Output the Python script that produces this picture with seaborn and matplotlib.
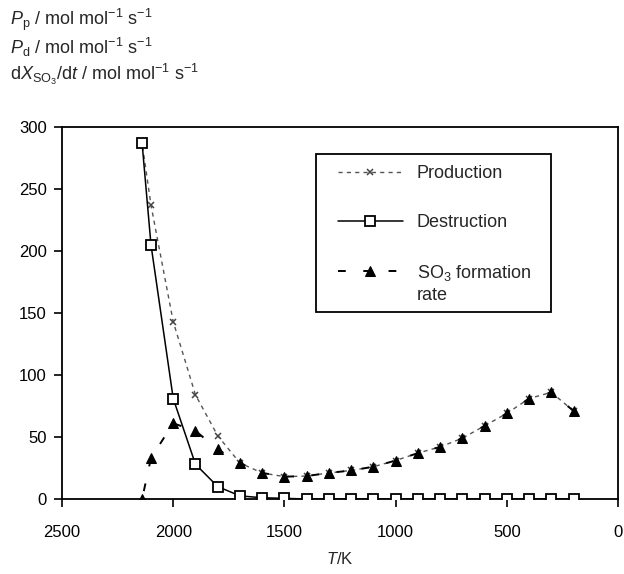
import matplotlib
matplotlib.use("Agg")
import matplotlib.pyplot as plt
from matplotlib.patches import Rectangle
import seaborn as sns
import pandas as pd

# Temperature grid (K) and rates (mol mol^-1 s^-1)
temperature = [2140, 2100, 2000, 1900, 1800, 1700, 1600, 1500, 1400, 1300,
               1200, 1100, 1000, 900, 800, 700, 600, 500, 400, 300, 200]
production = [287, 237, 143, 84, 51, 29, 21, 18, 18.5, 21,
              23, 26, 31, 37, 42, 49, 59, 69, 81, 86, 71]
destruction = [287, 205, 81, 28, 10, 2.5, 1, 0.5, 0, 0,
               0, 0, 0, 0, 0, 0, 0, 0, 0, 0, 0]
so3_rate = [0, 33, 61, 55, 40, 29, 21, 18, 18.5, 21,
            23, 26, 31, 37, 42, 49, 59, 69, 81, 86, 71]

x_ticks = [2500, 2000, 1500, 1000, 500, 0]
y_ticks = [0, 50, 100, 150, 200, 250, 300]

sns.set_style("white")
plt.rcParams["font.family"] = ["Liberation Sans", "DejaVu Sans"]
plt.rcParams["mathtext.fontset"] = "custom"
plt.rcParams["mathtext.rm"] = "Liberation Sans"
plt.rcParams["mathtext.it"] = "Liberation Sans:italic"
plt.rcParams["mathtext.bf"] = "Liberation Sans:bold"

df = pd.DataFrame({"T": temperature, "Pp": production,
                   "Pd": destruction, "dX": so3_rate})

fig = plt.figure(figsize=(6.24, 5.74), dpi=100)
ax = fig.add_axes([0.0994, 0.1307, 0.8910, 0.6480])

sns.lineplot(data=df, x="T", y="Pp", ax=ax, color="#555555", lw=1.0,
             marker="x", markersize=5, markeredgewidth=1.1,
             markeredgecolor="#444444", label="Production", zorder=2)
ax.lines[-1].set_dashes([3, 3])
sns.lineplot(data=df, x="T", y="Pd", ax=ax, color="black", lw=1.1,
             marker="s", markersize=7, markerfacecolor="white",
             markeredgecolor="black", markeredgewidth=1.3,
             label="Destruction", zorder=3)
sns.lineplot(data=df, x="T", y="dX", ax=ax, color="black", lw=1.4,
             marker="^", markersize=7.5, markerfacecolor="black",
             markeredgecolor="black", label="SO$_3$ formation", zorder=4)
ax.lines[-1].set_dashes([4, 9])

ax.set_xlim(2500, 0)
ax.set_ylim(0, 300)
ax.set_xticks(x_ticks)
ax.set_yticks(y_ticks)
ax.set_xticklabels([str(v) for v in x_ticks])
ax.set_yticklabels([str(v) for v in y_ticks])
ax.tick_params(axis="both", direction="out", length=6, width=1.2,
               labelsize=12, colors="black", bottom=True, left=True)
ax.tick_params(axis="x", pad=13)
ax.tick_params(axis="y", pad=5)
for s in ax.spines.values():
    s.set_color("black")
    s.set_linewidth(1.3)

ax.set_xlabel("$T$/K", fontsize=12, labelpad=8)
ax.set_ylabel("")

# legend entries without their own frame; the box is drawn separately
leg = ax.legend(loc="upper left", bbox_to_anchor=(0.4955, 0.897),
                fontsize=13, frameon=False,
                handlelength=3.6, handletextpad=0.8, borderpad=0,
                labelspacing=1.75, borderaxespad=0)

fig.canvas.draw()
renderer = fig.canvas.get_renderer()
last = leg.get_texts()[-1].get_window_extent(renderer)
x0_ax, y0_ax = ax.transAxes.inverted().transform((last.x0, last.y0))
ax.text(x0_ax, y0_ax - 0.012, "rate", transform=ax.transAxes,
        fontsize=13, ha="left", va="top")

ax.add_patch(Rectangle((0.457, 0.503), 0.4225, 0.424, transform=ax.transAxes,
                       fill=False, edgecolor="black", lw=1.3, zorder=5))

fig.text(0.016, 0.965, r"$P_\mathrm{p}$ / mol mol$^{-1}$ s$^{-1}$",
         fontsize=13, va="center", ha="left")
fig.text(0.016, 0.918, r"$P_\mathrm{d}$ / mol mol$^{-1}$ s$^{-1}$",
         fontsize=13, va="center", ha="left")
fig.text(0.016, 0.870, r"d$X_{\mathrm{SO}_3}$/d$t$ / mol mol$^{-1}$ s$^{-1}$",
         fontsize=13, va="center", ha="left")

fig.savefig("out.png", dpi=100)
